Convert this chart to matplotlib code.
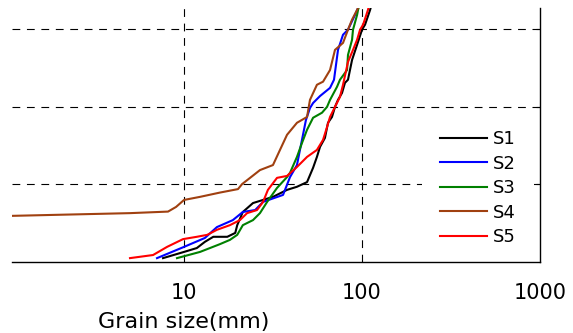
import numpy as np
import matplotlib
matplotlib.use('Agg')
import matplotlib.pyplot as plt

# grain size (mm) vs percent passing
s1_d = [7.62, 10, 11.8, 13.1, 14.6, 17.5, 19.4, 19.9, 21.4, 24.4, 31.6, 37.9, 43.1, 49.1,
        53.1, 55.8, 58.1, 61.9, 64.4, 67.8, 70.5, 73.3, 77.2, 80.2, 83.4, 87.9, 93.8,
        100, 104, 111, 117]
s1_p = [1.0, 2.6, 3.6, 5.2, 6.5, 6.5, 7.5, 9.5, 12.9, 15.2, 16.8, 18.6, 19.4, 20.6,
        24.3, 27.1, 29.7, 32.0, 35.9, 37.4, 40.0, 41.8, 43.6, 46.2, 47.0, 52.1, 56.0,
        59.9, 61.2, 65.0, 68.9]

s2_d = [7.05, 10, 13.1, 15.3, 18.8, 21.4, 25.1, 27.8, 36.0, 39.4, 43.1, 44.8, 46.6, 48.4,
        51.0, 53.1, 58.1, 66.1, 69.6, 73.3, 78.2, 83.4, 91.3, 95.0, 100]
s2_p = [1.0, 3.9, 6.2, 9.0, 10.8, 12.9, 13.4, 15.5, 17.3, 21.9, 25.0, 28.9, 32.8, 36.6,
        39.7, 41.0, 42.8, 44.9, 47.0, 54.7, 58.6, 59.9, 63.7, 65.5, 68.9]

s3_d = [9.13, 12.3, 15.9, 18.1, 19.9, 21.4, 24.4, 26.7, 29.3, 33.3, 37.9, 39.4, 43.1, 46.0,
        49.1, 53.1, 59.6, 63.6, 66.1, 72.4, 75.2, 82.4, 83.4, 87.9, 89.0, 93.8, 95.0, 100]
s3_p = [1.0, 2.6, 4.6, 5.7, 7.0, 9.5, 10.8, 12.6, 15.5, 19.1, 21.9, 23.0, 27.1, 30.7,
        34.1, 37.2, 38.5, 40.0, 41.8, 45.2, 47.0, 49.5, 53.4, 57.3, 59.9, 63.7, 65.0, 68.9]

s4_d = [1.08, 4.97, 8.13, 9.02, 10, 12.3, 15.9, 20.1, 21.2, 23.5, 26.7, 31.6, 34.6, 37.9,
        43.1, 49.1, 51.0, 55.8, 60.4, 66.1, 70.5, 78.2, 83.4, 87.9, 93.8, 100]
s4_p = [11.9, 12.6, 13.0, 14.2, 16.0, 16.8, 17.9, 18.8, 20.1, 21.7, 23.7, 25.0, 28.9, 32.8,
        35.9, 37.4, 41.8, 45.7, 46.5, 49.5, 54.7, 56.5, 59.9, 62.5, 65.0, 67.6]

s5_d = [4.97, 6.70, 8.03, 9.87, 11.8, 13.5, 15.3, 18.1, 20.6, 22.6, 25.7, 27.8, 29.6, 33.3,
        37.9, 43.1, 49.1, 55.8, 60.4, 63.6, 66.1, 70.5, 75.2, 78.2, 83.4, 89.0, 93.8,
        97.5, 101.4, 108, 113.6]
s5_p = [1.0, 1.8, 3.9, 5.9, 6.5, 7.0, 8.3, 9.5, 10.8, 12.6, 13.4, 15.5, 18.6, 21.7,
        22.2, 24.5, 27.1, 28.9, 31.5, 34.8, 37.4, 40.0, 42.6, 45.7, 51.6, 54.7, 57.3,
        59.9, 61.2, 65.0, 68.9]

series = [('S1', s1_d, s1_p, 'black'),
          ('S2', s2_d, s2_p, '#0000ff'),
          ('S3', s3_d, s3_p, '#008000'),
          ('S4', s4_d, s4_p, '#a04010'),
          ('S5', s5_d, s5_p, '#ff0000')]

W, H = 573, 333
fig = plt.figure(figsize=(W / 100, H / 100), dpi=100)
ax = fig.add_axes([12 / W, 1 - 262 / H, (540 - 12) / W, (262 - 8) / H])

for name, d, p, c in series:
    ax.plot(d, p, color=c, lw=1.5, label=name, zorder=3)

ax.set_xscale('log')
ax.set_xlim(1.08, 1000)
ax.set_ylim(0, 65.5)
ax.set_xticks([10, 100, 1000])
ax.set_xticklabels(['10', '100', '1000'])
ax.xaxis.set_minor_locator(matplotlib.ticker.NullLocator())
ax.set_yticks([20, 40, 60])
ax.yaxis.tick_right()
ax.tick_params(axis='y', direction='in', length=3, labelright=False)
ax.tick_params(axis='x', direction='in', length=0, pad=15, labelsize=15)

for xv in [10, 100]:
    ax.axvline(xv, color='k', lw=0.8, ls=(0, (7, 6)), zorder=1)
for yv in [20, 40, 60]:
    ax.axhline(yv, color='k', lw=0.8, ls=(0, (7, 6)), zorder=1)

ax.spines['top'].set_visible(False)
ax.spines['left'].set_visible(False)
for side in ['bottom', 'right']:
    ax.spines[side].set_linewidth(1.0)
    ax.spines[side].set_zorder(7)
ax.yaxis.set_zorder(7)

fig.text(184 / W, 1 - 322 / H, 'Grain size(mm)', fontsize=16, ha='center', va='center')

leg = ax.legend(loc='upper left', bbox_to_anchor=(422 / W, 1 - 112 / H),
                bbox_transform=fig.transFigure, frameon=True, fancybox=False,
                fontsize=13, handlelength=2.6, handletextpad=0.35,
                labelspacing=0.36, borderpad=1.0, borderaxespad=0)
leg.get_frame().set_edgecolor('none')
leg.get_frame().set_facecolor('white')
leg.get_frame().set_alpha(1)
leg.set_zorder(5)

fig.savefig('out.png', dpi=100)
